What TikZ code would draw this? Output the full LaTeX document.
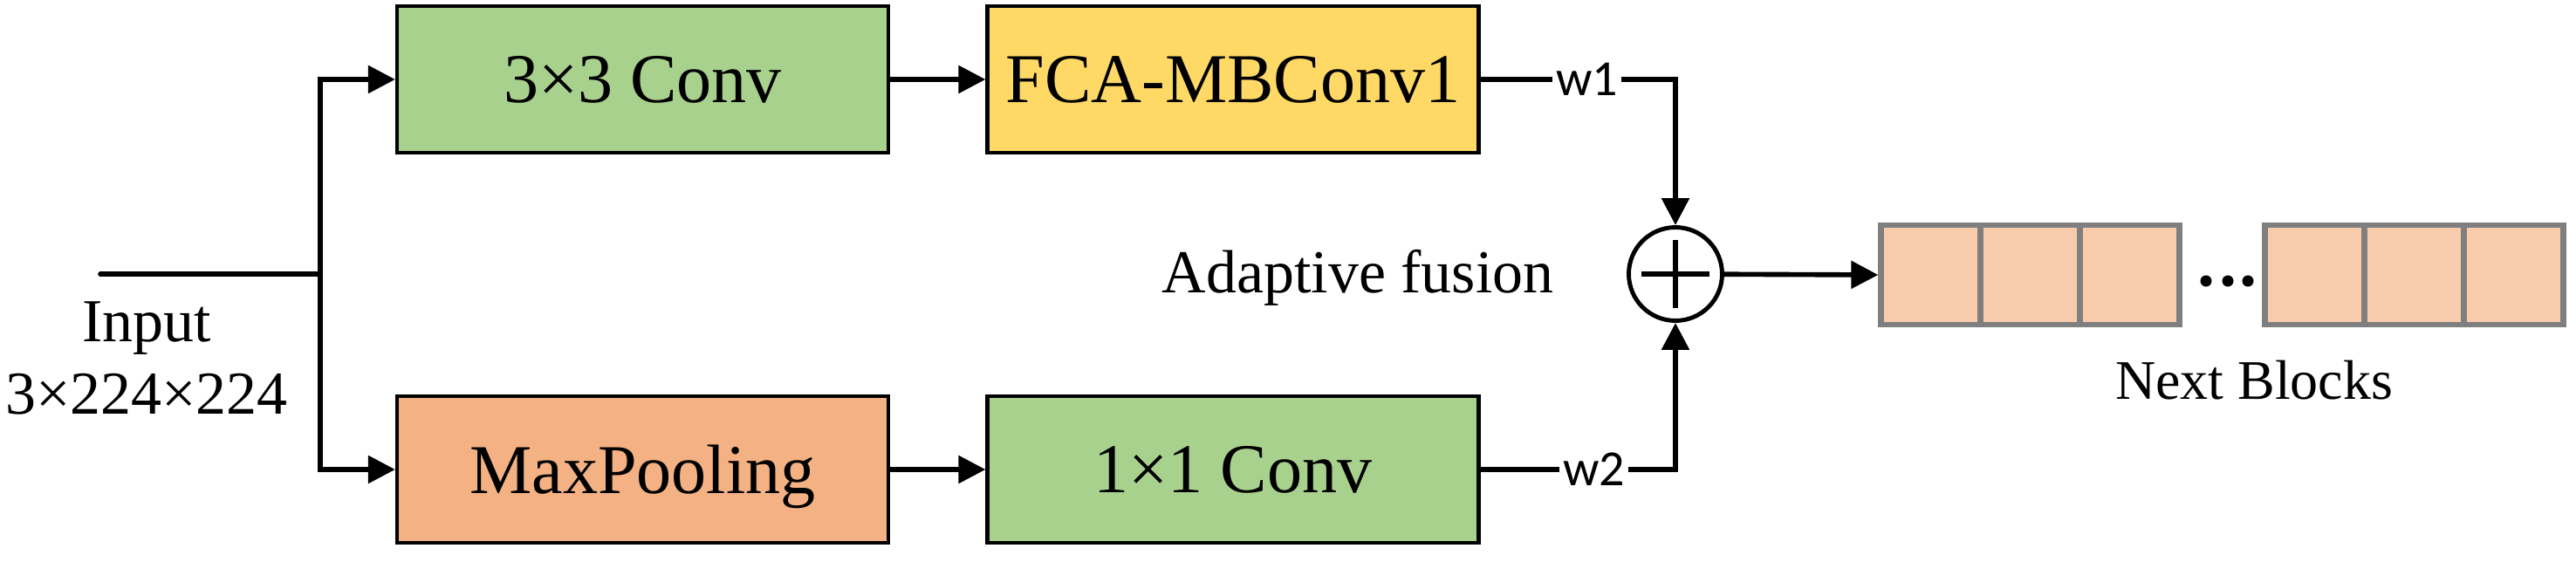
\documentclass[tikz,border=0pt]{standalone}
\usepackage{fontspec}
\setmainfont{Liberation Serif}
\newfontfamily\wfont{Carlito}
\usetikzlibrary{arrows.meta}
\definecolor{cgreen}{HTML}{A9D18E}
\definecolor{cyellow}{HTML}{FFD966}
\definecolor{corange}{HTML}{F4B183}
\definecolor{cpeach}{HTML}{F8CBAD}
\definecolor{cgray}{HTML}{7F7F7F}
\tikzset{
  blockbox/.style={draw=black, line width=1.2pt, minimum width=5.63cm, minimum height=1.68cm, inner sep=0pt, text depth=0pt,
    font=\fontsize{22.8pt}{24pt}\selectfont},
  conn/.style={line width=1.6pt},
  arr/.style={line width=1.6pt, -{Triangle[length=0.31cm, width=0.31cm]}},
  wlbl/.style={fill=white, inner xsep=0.04cm, inner ysep=0pt, font=\wfont\fontsize{16.5pt}{17pt}\selectfont},
  cell/.style={draw=cgray, fill=cpeach, line width=1.8pt, minimum width=1.14cm, minimum height=1.14cm, inner sep=0pt},
  plain/.style={inner sep=0pt, anchor=base},
}
\begin{document}
\begin{tikzpicture}
\useasboundingbox (0,0) rectangle (29.52,-6.44);
% input
\coordinate (in) at (1.15,-3.14);
\coordinate (j) at (3.67,-3.14);
\node[plain, font=\fontsize{19.9pt}{21pt}\selectfont] (inlbl) at (1.68,-3.91) {Input};
\node[plain, font=\fontsize{19.9pt}{21pt}\selectfont] (insize) at (1.68,-4.75) {3×224×224};
% boxes
\node[blockbox, fill=cgreen] (b1) at (7.365,-0.91) {3×3 Conv};
\node[blockbox, fill=corange] (b2) at (7.365,-5.38) {MaxPooling};
\node[blockbox, fill=cyellow] (b3) at (14.13,-0.91) {FCA-MBConv1};
\node[blockbox, fill=cgreen] (b4) at (14.13,-5.38) {1×1 Conv};
% fusion
\node[circle, draw, line width=1.4pt, minimum size=1.07cm, inner sep=0pt] (plus) at (19.2,-3.14) {};
\draw[line width=1.5pt] ([xshift=-0.39cm]plus.center) -- ([xshift=0.39cm]plus.center);
\draw[line width=1.5pt] ([yshift=-0.39cm]plus.center) -- ([yshift=0.39cm]plus.center);
\node[plain, font=\fontsize{19.9pt}{21pt}\selectfont] (fus) at (15.56,-3.35) {Adaptive fusion};
% next blocks
\node[cell] (c1) at (22.125,-3.15) {};
\node[cell] (c2) at (23.265,-3.15) {};
\node[cell] (c3) at (24.405,-3.15) {};
\node[cell] (c4) at (26.525,-3.15) {};
\node[cell] (c5) at (27.665,-3.15) {};
\node[cell] (c6) at (28.805,-3.15) {};
\foreach \x in {25.28,25.53,25.76} \fill (\x,-3.22) circle (0.065);
\node[plain, font=\fontsize{18.2pt}{19pt}\selectfont] (nb) at (25.83,-4.57) {Next Blocks};
% connectors
\draw[conn, line cap=round] (in) -- (j);
\draw[arr] (j) |- (b1.west);
\draw[arr] (j) |- (b2.west);
\draw[arr] (b1) -- (b3);
\draw[arr] (b2) -- (b4);
\draw[arr] (b3.east) -| node[wlbl, pos=0.273] {w1} (plus.north);
\draw[arr] (b4.east) -| node[wlbl, pos=0.291] {w2} (plus.south);
\draw[arr] (plus) -- (c1.west);
\end{tikzpicture}
\end{document}
